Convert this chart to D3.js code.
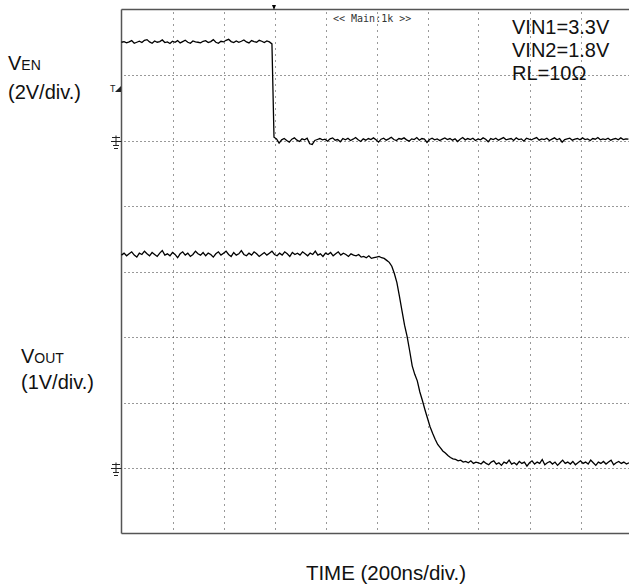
<!DOCTYPE html>
<html><head><meta charset="utf-8">
<script src="https://cdn.jsdelivr.net/npm/d3@7"></script>
<style>html,body{margin:0;padding:0;background:#fff;}svg{display:block;}</style>
</head><body>
<script>
// ---- data ----
const timeStepNs = 10;            // sample spacing (ns)
const timeDomainNs = [0, 2000];   // 10 div x 200 ns
const enHighV = [3.00,3.02,2.98,3.01,3.05,2.97,3.00,3.03,2.99,3.06,3.08,3.01,2.97,3.04,3.00,3.02,3.07,2.99,3.01,2.96,3.03,3.00,3.05,2.98,3.02,3.06,3.00,2.97,3.04,3.01,
3.00,2.98,3.03,3.05,2.99,3.02,3.08,3.00,2.97,3.03,3.01,3.06,3.09,3.02,2.99,3.04,3.00,3.03,3.07,3.01,2.98,3.05,3.02,3.00,3.06,3.03,2.99,3.04,3.01,2.95];
const enLowV = [0.10,0.05,-0.08,0.02,0.06,0.00,-0.05,0.04,0.08,0.01,
-0.03,0.05,0.02,0.07,-0.10,-0.12,0.00,0.03,0.06,0.02,
0.04,-0.02,0.05,0.08,0.01,0.03,-0.04,0.06,0.02,0.07,
0.00,0.04,0.09,0.02,-0.03,0.05,0.01,0.06,0.03,0.08,
0.02,-0.05,0.04,0.07,0.01,0.05,0.10,0.03,0.00,0.06,
0.04,0.08,0.02,-0.02,0.05,0.03,0.09,0.01,0.06,0.04,
-0.06,0.03,0.07,0.02,0.05,0.00,0.04,0.08,0.03,0.06,
0.01,0.05,-0.03,0.04,0.09,0.02,0.06,0.03,0.07,0.00,
0.05,0.02,0.08,0.04,-0.04,0.06,0.03,0.07,0.01,0.05,
0.09,0.02,0.04,0.06,0.00,0.08,0.03,0.05,-0.02,0.07,
0.04,0.02,0.06,0.09,0.01,0.05,0.03,0.07,0.00,0.04,
0.08,0.02,0.06,-0.05,0.03,0.05,0.07,0.01,0.04,0.06,
0.02,0.08,0.03,0.05,0.00,0.06,0.04,0.09,0.02,0.05,
0.03,0.07,0.01,0.04,0.06,0.02,0.08,0.03,0.05,0.04];
const outV = [3.25,3.28,3.24,3.27,3.30,3.25,3.22,3.28,3.26,3.31,
3.27,3.24,3.29,3.26,3.23,3.28,3.32,3.25,3.27,3.24,
3.29,3.26,3.21,3.27,3.30,3.25,3.28,3.23,3.26,3.31,
3.27,3.25,3.29,3.24,3.28,3.26,3.22,3.27,3.30,3.25,
3.28,3.31,3.26,3.23,3.29,3.25,3.27,3.32,3.26,3.24,
3.28,3.25,3.30,3.27,3.23,3.26,3.29,3.25,3.28,3.31,
3.26,3.24,3.28,3.25,3.30,3.27,3.23,3.29,3.26,3.28,
3.25,3.30,3.27,3.24,3.28,3.26,3.31,3.25,3.27,3.23,
3.28,3.26,3.29,3.24,3.27,3.30,3.25,3.28,3.26,3.23,
3.27,3.25,3.24,3.26,3.22,3.23,3.21,3.24,3.20,3.21,
3.22,3.23,3.21,3.20,3.17,3.14,3.08,2.97,2.83,2.62,
2.40,2.18,2.01,1.79,1.56,1.43,1.33,1.16,1.03,0.89,
0.76,0.63,0.53,0.44,0.36,0.31,0.26,0.23,0.19,0.16,
0.14,0.13,0.11,0.12,0.09,0.10,0.08,0.11,0.07,0.09,
0.08,0.06,0.10,0.07,0.05,0.09,0.11,0.06,0.08,0.04,
0.09,0.07,0.12,0.06,0.08,0.05,0.10,0.07,0.09,0.03,
0.08,0.11,0.06,0.09,0.07,0.13,0.05,0.08,0.10,0.06,
0.09,0.04,0.08,0.12,0.07,0.09,0.06,0.10,0.05,0.08,
0.11,0.07,0.09,0.06,0.12,0.08,0.04,0.09,0.07,0.10,
0.06,0.09,0.12,0.05,0.08,0.10,0.07,0.09,0.06,0.08];
const enStartLowNs = 598;
const enDomainV = [-12, 4];   // 2 V/div, ground 2 div from top
const outDomainV = [-1, 7];   // 1 V/div, ground 7 div from top
const notes = ["VIN1=3.3V", "VIN2=1.8V", "RL=10\u03A9"];

// ---- layout ----
const W = 629, H = 587;
const L = 121.5, T = 9.5, PW = 510, PH = 524;
const svg = d3.select("body").append("svg").attr("width", W).attr("height", H);
svg.append("rect").attr("width", W).attr("height", H).attr("fill", "#fff");

const x = d3.scaleLinear().domain(timeDomainNs).range([L, L + PW]);
const yEN = d3.scaleLinear().domain(enDomainV).range([T + PH, T]);
const yOUT = d3.scaleLinear().domain(outDomainV).range([T + PH, T]);

// grid
const g = svg.append("g");
const xTicks = d3.range(1, 10).map(i => timeDomainNs[0] + i * 200);
const yTicks = d3.range(1, 8).map(i => outDomainV[0] + i);
g.selectAll(".vg").data(xTicks).join("line")
  .attr("x1", d => Math.round(x(d)) + 0.5).attr("x2", d => Math.round(x(d)) + 0.5)
  .attr("y1", T + 3).attr("y2", T + PH)
  .attr("stroke", "#333").attr("stroke-width", 1).attr("stroke-dasharray", "1,5");
g.selectAll(".hg").data(yTicks).join("line")
  .attr("x1", L + 3).attr("x2", W)
  .attr("y1", d => Math.round(yOUT(d)) + 0.5).attr("y2", d => Math.round(yOUT(d)) + 0.5)
  .attr("stroke", "#333").attr("stroke-width", 1).attr("stroke-dasharray", "1,3");

// frame
svg.append("line").attr("x1", L).attr("x2", W).attr("y1", T).attr("y2", T).attr("stroke", "#555").attr("stroke-width", 1.5);
svg.append("line").attr("x1", L).attr("x2", W).attr("y1", T + PH).attr("y2", T + PH).attr("stroke", "#555").attr("stroke-width", 1.5);
svg.append("line").attr("x1", L).attr("x2", L).attr("y1", T).attr("y2", T + PH).attr("stroke", "#555").attr("stroke-width", 1.5);

// traces
const enData = enHighV.map((v, i) => [i * timeStepNs, v])
  .concat(enLowV.map((v, i) => [enStartLowNs + i * timeStepNs, v]));
const outData = outV.map((v, i) => [i * timeStepNs, v]);
const lineEN = d3.line().x(d => x(d[0])).y(d => yEN(d[1]));
const lineOUT = d3.line().x(d => x(d[0])).y(d => yOUT(d[1]));
svg.append("path").datum(enData).attr("d", lineEN).attr("fill", "none").attr("stroke", "#000").attr("stroke-width", 1.3);
svg.append("path").datum(outData).attr("d", lineOUT).attr("fill", "none").attr("stroke", "#000").attr("stroke-width", 1.3);

// trigger marker at top
const tx = x(enStartLowNs);
svg.append("path").attr("d", `M${tx - 2},5 L${tx + 2},5 L${tx},10 Z`).attr("fill", "#000");

// ground markers
function ground(yv) {
  const gx = 116, gy = Math.round(yv) + 0.5;
  const p = `M${gx},${gy - 6} V${gy + 4} M${gx - 4},${gy - 4} H${gx + 4} M${gx - 5},${gy} H${L} M${gx - 3},${gy + 4} H${gx + 3} M${gx - 2},${gy + 7} H${gx + 2}`;
  svg.append("path").attr("d", p).attr("stroke", "#222").attr("stroke-width", 1).attr("fill", "none");
}
ground(yEN(0));
ground(yOUT(0));
// trigger level marker
svg.append("text").attr("x", 110).attr("y", 92).attr("font-family", "DejaVu Sans Mono").attr("font-size", 9).attr("fill", "#222").text("T");
svg.append("path").attr("d", `M115,92 L121,92 L121,86 Z`).attr("fill", "#222");

// scope header
svg.append("text").attr("x", 333).attr("y", 22).attr("font-family", "DejaVu Sans Mono").attr("font-size", 10).attr("fill", "#333").text("<< Main:1k >>");

// notes
const font = "Liberation Sans, Arial, sans-serif";
svg.selectAll(".note").data(notes).join("text")
  .attr("x", 512).attr("y", (d, i) => 34 + i * 23)
  .attr("font-family", font).attr("font-size", 20).attr("fill", "#111").text(d => d);

// channel labels
const t1 = svg.append("text").attr("x", 8).attr("y", 70).attr("font-family", font).attr("font-size", 20).attr("fill", "#111");
t1.append("tspan").text("V");
t1.append("tspan").attr("font-size", 14).text("EN");
svg.append("text").attr("x", 8).attr("y", 99).attr("font-family", font).attr("font-size", 20).attr("fill", "#111").text("(2V/div.)");
const t2 = svg.append("text").attr("x", 21).attr("y", 363).attr("font-family", font).attr("font-size", 20).attr("fill", "#111");
t2.append("tspan").text("V");
t2.append("tspan").attr("font-size", 14).text("OUT");
svg.append("text").attr("x", 21).attr("y", 389).attr("font-family", font).attr("font-size", 20).attr("fill", "#111").text("(1V/div.)");

// x axis title
svg.append("text").attr("x", 386).attr("y", 580).attr("text-anchor", "middle")
  .attr("font-family", font).attr("font-size", 20.5).attr("fill", "#111").text("TIME (200ns/div.)");
</script>
</body></html>
